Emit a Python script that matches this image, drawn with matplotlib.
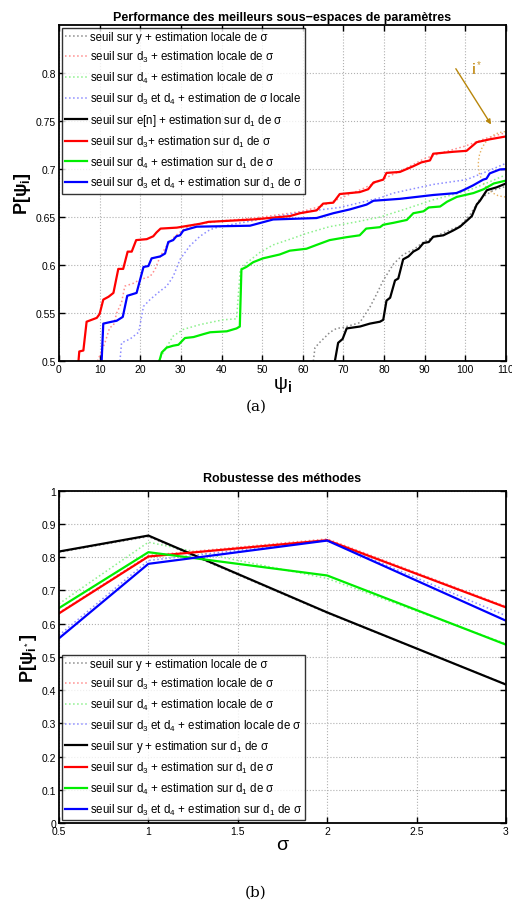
import matplotlib
matplotlib.use('Agg')
import matplotlib.pyplot as plt
from matplotlib.patches import Ellipse

plt.rcParams['font.family'] = ['Liberation Sans', 'DejaVu Sans']
plt.rcParams['mathtext.fontset'] = 'custom'
plt.rcParams['mathtext.rm'] = 'Liberation Sans'
plt.rcParams['mathtext.it'] = 'Liberation Sans:italic'
plt.rcParams['mathtext.bf'] = 'Liberation Sans:bold'

# ---- (a) performance des sous-espaces ----
grey_loc_x = [62.6, 63.0, 64.3, 66.7, 68.3, 70.0, 74.0, 76.5, 78.2, 79.8, 82.3, 84.7, 87.2, 89.7, 92.1, 95.4, 98.7, 101.1, 103.6, 106.9, 110.0]
grey_loc_y = [0.500, 0.514, 0.520, 0.530, 0.534, 0.535, 0.540, 0.556, 0.570, 0.584, 0.601, 0.611, 0.616, 0.624, 0.629, 0.635, 0.641, 0.652, 0.669, 0.678, 0.682]

red_loc_x = [9.5, 11.3, 12.5, 13.4, 14.2, 15.4, 16.2, 18.3, 20.0, 22.4, 23.6, 24.9, 26.5, 28.5, 30.6, 33.0, 40, 50, 60, 65, 70, 75, 80, 85, 90, 95, 100, 105, 110]
red_loc_y = [0.500, 0.519, 0.535, 0.537, 0.550, 0.561, 0.578, 0.581, 0.585, 0.588, 0.595, 0.609, 0.620, 0.630, 0.637, 0.642, 0.646, 0.650, 0.656, 0.662, 0.671, 0.680, 0.690, 0.700, 0.711, 0.718, 0.724, 0.732, 0.738]

green_loc_x = [24.5, 26.1, 28.1, 30.6, 34.7, 40.4, 43.7, 44.6, 46.1, 49.4, 52.7, 57.6, 60.9, 66.6, 73.2, 79.0, 85.0, 92.1, 100.3, 105.0, 110.0]
green_loc_y = [0.500, 0.512, 0.526, 0.533, 0.538, 0.543, 0.544, 0.595, 0.602, 0.613, 0.621, 0.628, 0.633, 0.640, 0.645, 0.650, 0.658, 0.668, 0.677, 0.685, 0.694]

blue_loc_x = [15.0, 15.4, 17.5, 19.6, 20.8, 22.4, 24.9, 26.5, 28.1, 29.8, 32.2, 34.7, 37.2, 39.6, 50.0, 59.3, 69.1, 79.0, 82.3, 92.1, 100.3, 105.0, 110.0]
blue_loc_y = [0.500, 0.519, 0.523, 0.530, 0.557, 0.564, 0.573, 0.578, 0.588, 0.606, 0.620, 0.630, 0.637, 0.640, 0.648, 0.655, 0.660, 0.670, 0.675, 0.684, 0.689, 0.697, 0.706]

black_x = [67.9, 68.7, 69.8, 70.8, 74.1, 76.5, 79.0, 79.8, 80.6, 81.5, 82.7, 83.5, 84.7, 86.0, 87.2, 88.5, 89.7, 91.0, 92.1, 94.6, 97.0, 98.7, 100.3, 101.6, 102.8, 103.6, 105.3, 107.7, 110.0]
black_y = [0.500, 0.519, 0.523, 0.534, 0.536, 0.539, 0.541, 0.543, 0.563, 0.566, 0.584, 0.586, 0.606, 0.609, 0.614, 0.617, 0.623, 0.624, 0.6295, 0.631, 0.636, 0.640, 0.646, 0.651, 0.663, 0.667, 0.678, 0.681, 0.685]

red_x = [4.8, 5.0, 6.0, 6.8, 9.3, 10.0, 10.9, 12.2, 13.4, 14.6, 15.8, 16.9, 17.9, 19.0, 21.6, 23.2, 24.0, 25.0, 29.0, 34.7, 36.8, 47.8, 56.8, 59.3, 63.4, 65.0, 67.5, 69.1, 74.0, 76.1, 77.4, 79.8, 80.6, 83.9, 87.2, 89.2, 91.3, 92.1, 97.0, 100.3, 102.8, 106.0, 110.0]
red_y = [0.500, 0.510, 0.511, 0.541, 0.545, 0.549, 0.564, 0.567, 0.571, 0.596, 0.596, 0.614, 0.614, 0.626, 0.627, 0.630, 0.634, 0.638, 0.639, 0.643, 0.645, 0.6475, 0.651, 0.654, 0.657, 0.664, 0.665, 0.674, 0.676, 0.679, 0.686, 0.689, 0.696, 0.697, 0.703, 0.707, 0.709, 0.716, 0.718, 0.719, 0.728, 0.731, 0.734]

green_x = [24.7, 25.3, 26.5, 28.1, 29.4, 31.0, 33.1, 35.5, 37.2, 41.3, 43.7, 44.5, 44.9, 46.1, 47.8, 50.2, 54.3, 56.8, 60.9, 63.4, 66.6, 70.7, 74.0, 75.6, 79.0, 79.8, 82.3, 85.6, 87.2, 89.7, 91.0, 93.8, 95.5, 97.9, 102.0, 104.5, 107.0, 110.0]
green_y = [0.500, 0.509, 0.514, 0.516, 0.517, 0.524, 0.525, 0.528, 0.530, 0.531, 0.534, 0.536, 0.5955, 0.598, 0.603, 0.607, 0.611, 0.615, 0.617, 0.621, 0.626, 0.629, 0.631, 0.638, 0.6395, 0.642, 0.644, 0.647, 0.654, 0.656, 0.660, 0.661, 0.666, 0.671, 0.675, 0.679, 0.685, 0.688]

blue_x = [10.5, 10.9, 13.0, 14.2, 15.7, 16.8, 19.1, 20.8, 22.0, 22.8, 24.9, 26.1, 26.9, 28.1, 28.9, 29.8, 30.6, 32.2, 33.9, 47.0, 52.7, 63.4, 67.5, 71.6, 75.7, 77.4, 83.9, 92.1, 97.8, 99.5, 101.9, 104.4, 105.2, 106.0, 108.5, 110.0]
blue_y = [0.500, 0.539, 0.541, 0.542, 0.546, 0.568, 0.571, 0.598, 0.599, 0.607, 0.609, 0.612, 0.624, 0.626, 0.630, 0.631, 0.636, 0.638, 0.640, 0.641, 0.6475, 0.649, 0.654, 0.658, 0.663, 0.667, 0.669, 0.673, 0.675, 0.678, 0.683, 0.689, 0.690, 0.6955, 0.6996, 0.700]

labels_a = ['seuil sur y + estimation locale de σ',
            'seuil sur d$_3$ + estimation locale de σ',
            'seuil sur d$_4$ + estimation locale de σ',
            'seuil sur d$_3$ et d$_4$ + estimation de σ locale',
            'seuil sur e[n] + estimation sur d$_1$ de σ',
            'seuil sur d$_3$+ estimation sur d$_1$ de σ',
            'seuil sur d$_4$ + estimation sur d$_1$ de σ',
            'seuil sur d$_3$ et d$_4$ + estimation sur d$_1$ de σ']

# ---- (b) robustesse ----
sigma = [0.5, 1, 2, 3]
rob_grey_loc = [0.815, 0.862, 0.632, 0.418]
rob_red_loc = [0.633, 0.805, 0.855, 0.652]
rob_green_loc = [0.660, 0.845, 0.736, 0.540]
rob_blue_loc = [0.565, 0.790, 0.851, 0.624]
rob_black = [0.817, 0.865, 0.634, 0.417]
rob_red = [0.631, 0.802, 0.851, 0.649]
rob_green = [0.647, 0.815, 0.745, 0.537]
rob_blue = [0.556, 0.780, 0.850, 0.609]

labels_b = ['seuil sur y + estimation locale de σ',
            'seuil sur d$_3$ + estimation locale de σ',
            'seuil sur d$_4$ + estimation locale de σ',
            'seuil sur d$_3$ et d$_4$ + estimation locale de σ',
            'seuil sur y + estimation sur d$_1$ de σ',
            'seuil sur d$_3$ + estimation sur d$_1$ de σ',
            'seuil sur d$_4$ + estimation sur d$_1$ de σ',
            'seuil sur d$_3$ et d$_4$ + estimation sur d$_1$ de σ']

dot_cols = ['#8a8a8a', '#ff8c8c', '#8cf08c', '#8c8cff']
sol_cols = ['black', '#ff0000', '#00ee00', '#0000ff']


def style_axes(ax):
    ax.grid(True, linestyle=':', color='#b0b0b0', linewidth=0.8)
    ax.tick_params(direction='in', top=True, right=True, labelsize=7.5, length=4, width=1, pad=2)
    for s in ax.spines.values():
        s.set_linewidth(1.3)


def make_legend(ax, loc):
    leg = ax.legend(loc=loc, fontsize=8.3, frameon=True, fancybox=False, edgecolor='black',
                    handlelength=1.85, handletextpad=0.25, borderpad=0.3, labelspacing=0.5,
                    borderaxespad=0.25)
    leg.get_frame().set_linewidth(1.0)
    return leg


fig = plt.figure(figsize=(5.12, 9.12), dpi=100)

ax1 = fig.add_axes([0.1152, 0.603, 0.873, 0.3684])
curves_dot = [(grey_loc_x, grey_loc_y), (red_loc_x, red_loc_y), (green_loc_x, green_loc_y), (blue_loc_x, blue_loc_y)]
curves_sol = [(black_x, black_y), (red_x, red_y), (green_x, green_y), (blue_x, blue_y)]
for (xs, ys), c, lab in zip(curves_dot, dot_cols, labels_a[:4]):
    ax1.plot(xs, ys, ':', color=c, lw=1.1, label=lab)
for (xs, ys), c, lab in zip(curves_sol, sol_cols, labels_a[4:]):
    ax1.plot(xs, ys, '-', color=c, lw=1.6, label=lab)
ax1.add_patch(Ellipse((110, 0.705), 13.6, 0.068, fill=False, linestyle=':', edgecolor='#e6b060', lw=1.0))
ax1.annotate('', xy=(106.7, 0.744), xytext=(97.3, 0.807),
             arrowprops=dict(arrowstyle='-|>', color='#b8860b', lw=1.0, mutation_scale=7))
ax1.text(101.5, 0.806, 'i$^*$', color='#c8962b', fontsize=10, fontweight='bold', va='center')
ax1.set_xlim(0, 110)
ax1.set_ylim(0.5, 0.85)
ax1.set_xticks(range(0, 111, 10))
ax1.set_yticks([0.5, 0.55, 0.6, 0.65, 0.7, 0.75, 0.8])
ax1.set_yticklabels(['0.5', '0.55', '0.6', '0.65', '0.7', '0.75', '0.8'])
style_axes(ax1)
ax1.set_title('Performance des meilleurs sous−espaces de paramètres', fontsize=9, fontweight='bold', pad=4)
ax1.set_xlabel('ψ$_\\mathbf{i}$', fontsize=14, labelpad=0)
ax1.set_ylabel('P[ψ$_\\mathbf{i}$]', fontsize=13, fontweight='bold', labelpad=2)
make_legend(ax1, 'upper left')

ax2 = fig.add_axes([0.1152, 0.0962, 0.873, 0.3647])
rob_dot = [rob_grey_loc, rob_red_loc, rob_green_loc, rob_blue_loc]
rob_sol = [rob_black, rob_red, rob_green, rob_blue]
for ys, c, lab in zip(rob_dot, dot_cols, labels_b[:4]):
    ax2.plot(sigma, ys, ':', color=c, lw=1.1, label=lab)
for ys, c, lab in zip(rob_sol, sol_cols, labels_b[4:]):
    ax2.plot(sigma, ys, '-', color=c, lw=1.6, label=lab)
ax2.set_xlim(0.5, 3)
ax2.set_ylim(0, 1)
ax2.set_xticks([0.5, 1, 1.5, 2, 2.5, 3])
ax2.set_xticklabels(['0.5', '1', '1.5', '2', '2.5', '3'])
ax2.set_yticks([i / 10 for i in range(11)])
ax2.set_yticklabels(['0', '0.1', '0.2', '0.3', '0.4', '0.5', '0.6', '0.7', '0.8', '0.9', '1'])
style_axes(ax2)
ax2.set_title('Robustesse des méthodes', fontsize=9, fontweight='bold', pad=7)
ax2.set_xlabel('σ', fontsize=14, labelpad=0)
ax2.set_ylabel('P[ψ$_{\\mathbf{i}^*}$]', fontsize=13, fontweight='bold', labelpad=2)
make_legend(ax2, 'lower left')

fig.text(0.5, 1 - 407 / 912, '(a)', ha='center', va='center', fontsize=11, family='DejaVu Serif')
fig.text(0.5, 1 - 893 / 912, '(b)', ha='center', va='center', fontsize=11, family='DejaVu Serif')

fig.savefig('out.png', dpi=100)
